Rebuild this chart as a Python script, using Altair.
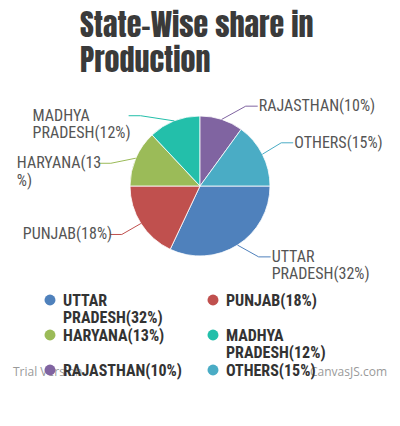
import math
import pandas as pd
import altair as alt

# ---- data ----
states = ["UTTAR PRADESH", "PUNJAB", "HARYANA", "MADHYA PRADESH", "RAJASTHAN", "OTHERS"]
shares = [32, 18, 13, 12, 10, 15]
colors = ["#4F81BC", "#C0504E", "#9BBB58", "#23BFAA", "#8064A1", "#4AACC5"]
pie_labels = ["UTTAR\nPRADESH(32%)", "PUNJAB(18%)", "HARYANA(13\n%)",
              "MADHYA\nPRADESH(12%)", "RAJASTHAN(10%)", "OTHERS(15%)"]
legend_labels = ["UTTAR\nPRADESH(32%)", "PUNJAB(18%)", "HARYANA(13%)",
                 "MADHYA\nPRADESH(12%)", "RAJASTHAN(10%)", "OTHERS(15%)"]
title_text = "State-Wise share in\nProduction"

# ---- layout (page pixel coordinates) ----
CX, CY, R, R_ELBOW = 200, 186, 70, 92
nudge = [-7.2, 0.6, -9.1, -18.6, 11.8, -1.0]      # label angle spread
left_width = [0, 86, 81, 95, 0, 0]                # wrap box width of left labels
LABEL_FONT = "Roboto Condensed"
TITLE_FONT = "Anton"
W, H = 384, 410

xs = alt.Scale(domain=[8, 8 + W], range=[0, W])
ys = alt.Scale(domain=[8, 8 + H], range=[0, H])
cs = alt.Scale(domain=states, range=colors)

total = sum(shares)
pie_df = pd.DataFrame({"state": states, "share": shares, "idx": range(len(states))})

lead_rows, lab_rows = [], []
acc = 0
for i, (s, v) in enumerate(zip(states, shares)):
    mid = (acc + v / 2) / total * 360
    acc += v
    a0 = math.radians(mid)
    a1 = math.radians(mid + nudge[i])
    p0 = (CX + R * math.cos(a0), CY + R * math.sin(a0))
    p1 = (CX + R_ELBOW * math.cos(a1), CY + R_ELBOW * math.sin(a1))
    right = math.cos(a1) > 0
    p2 = (p1[0] + (12 if right else -12), p1[1])
    for k, p in enumerate([p0, p1, p2]):
        lead_rows.append({"state": s, "k": k, "x": p[0], "y": p[1]})
    tx = p2[0] + 1 if right else p2[0] - 1 - left_width[i]
    lab_rows.append({"state": s, "text": pie_labels[i], "x": tx, "y": p1[1]})
lead_df = pd.DataFrame(lead_rows)
lab_df = pd.DataFrame(lab_rows)

# legend positions
leg_rows = []
row_y = 300
for r in range(0, len(states), 2):
    n_lines = max(legend_labels[j].count("\n") + 1 for j in range(r, min(r + 2, len(states))))
    for j in range(r, min(r + 2, len(states))):
        mx = 50 + (j - r) * 163
        leg_rows.append({"state": states[j], "text": legend_labels[j],
                         "mx": mx, "my": row_y, "tx": mx + 13, "ty": row_y + 5.5})
    row_y += n_lines * 17.5
leg_df = pd.DataFrame(leg_rows)

title_df = pd.DataFrame({"text": [title_text], "x": [80], "y": [37]})
wm_df = pd.DataFrame({"text": ["Trial Version", "CanvasJS.com"], "x": [13, 387], "y": [376, 376],
                      "side": ["l", "r"]})

pie = alt.Chart(pie_df).mark_arc(radius=R, stroke="white", strokeWidth=0.8).encode(
    theta=alt.Theta("share:Q", stack=True,
                    scale=alt.Scale(range=[math.pi / 2, math.pi / 2 + 2 * math.pi])),
    color=alt.Color("state:N", scale=cs, legend=None),
    order=alt.Order("idx:Q"),
    x=alt.value(CX - 8), y=alt.value(CY - 8),
)

leaders = alt.Chart(lead_df).mark_line(strokeWidth=1).encode(
    x=alt.X("x:Q", scale=xs, axis=None),
    y=alt.Y("y:Q", scale=ys, axis=None),
    color=alt.Color("state:N", scale=cs, legend=None),
    detail="state:N",
    order="k:Q",
)

labels = alt.Chart(lab_df).mark_text(
    align="left", baseline="middle", font=LABEL_FONT, fontSize=16,
    color="#555555", lineBreak="\n", lineHeight=17.5,
).encode(
    x=alt.X("x:Q", scale=xs, axis=None),
    y=alt.Y("y:Q", scale=ys, axis=None),
    text="text:N",
)

title = alt.Chart(title_df).mark_text(
    align="left", baseline="alphabetic", font=TITLE_FONT, fontWeight="normal",
    fontSize=30, color="#3A3A3A", lineBreak="\n", lineHeight=35,
).encode(
    x=alt.X("x:Q", scale=xs, axis=None),
    y=alt.Y("y:Q", scale=ys, axis=None),
    text="text:N",
)

wm_l = alt.Chart(wm_df[wm_df.side == "l"]).mark_text(
    align="left", baseline="alphabetic", font="Open Sans", fontSize=12, color="#9a9a9a",
).encode(x=alt.X("x:Q", scale=xs, axis=None), y=alt.Y("y:Q", scale=ys, axis=None), text="text:N")
wm_r = alt.Chart(wm_df[wm_df.side == "r"]).mark_text(
    align="right", baseline="alphabetic", font="Open Sans", fontSize=12, color="#9a9a9a",
).encode(x=alt.X("x:Q", scale=xs, axis=None), y=alt.Y("y:Q", scale=ys, axis=None), text="text:N")

leg_pts = alt.Chart(leg_df).mark_point(filled=True, shape="circle", size=120, opacity=1).encode(
    x=alt.X("mx:Q", scale=xs, axis=None),
    y=alt.Y("my:Q", scale=ys, axis=None),
    color=alt.Color("state:N", scale=cs, legend=None),
)
leg_txt = alt.Chart(leg_df).mark_text(
    align="left", baseline="alphabetic", font=LABEL_FONT, fontWeight="bold",
    fontSize=16, color="#333333", lineBreak="\n", lineHeight=17.5,
).encode(
    x=alt.X("tx:Q", scale=xs, axis=None),
    y=alt.Y("ty:Q", scale=ys, axis=None),
    text="text:N",
)

chart = alt.layer(title, wm_l, wm_r, pie, leaders, labels, leg_pts, leg_txt).properties(
    width=W, height=H, padding=0, autosize=alt.AutoSizeParams(type="none"),
    background="white",
).configure_view(strokeWidth=0)

chart.save("out.html", embed_options={"renderer": "svg", "actions": False})
